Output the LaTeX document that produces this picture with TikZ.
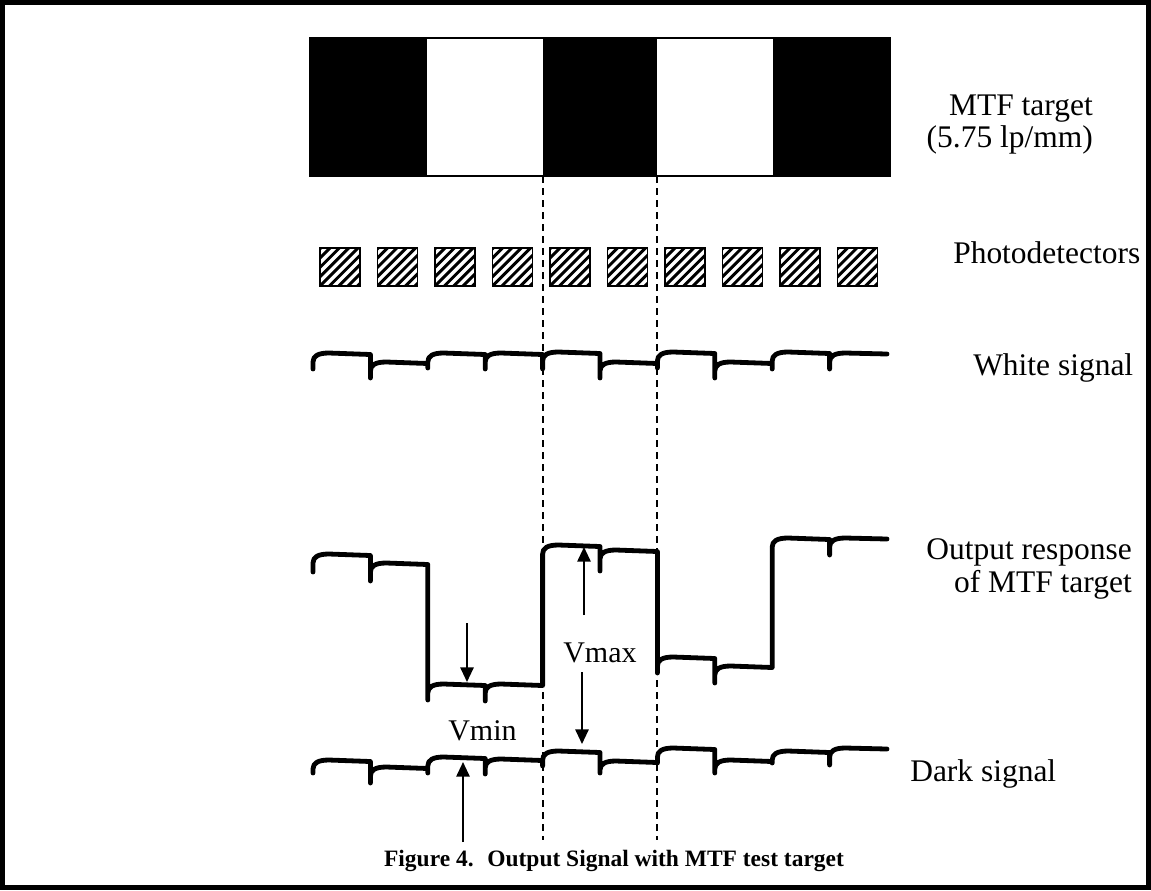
\documentclass[tikz,border=0pt]{standalone}
\usepackage{fontspec}
\setmainfont{Liberation Serif}
\usetikzlibrary{arrows.meta}
\begin{document}
\begin{tikzpicture}[x=0.75pt,y=-0.75pt,
  lbl/.style={inner sep=0pt,font=\fontsize{23.6}{28}\selectfont},
  vlbl/.style={inner sep=0pt,font=\fontsize{22.5}{26}\selectfont},
  capt/.style={inner sep=0pt,font=\fontsize{17.6}{21}\selectfont\bfseries},
  wave/.style={line width=3.6pt,line cap=round,line join=round},
  guide/.style={line width=1.4pt,dash pattern=on 5.5pt off 3.5pt},
  varrow/.style={line width=1.4pt,-{Triangle[length=11pt,width=10pt]}},
  pdbox/.style={draw,line width=1.4pt,minimum width=30pt,minimum height=28.5pt,inner sep=0pt,
    path picture={\foreach \k in {-5,...,5}
      \draw[line width=2.2pt] ([xshift=\k*7pt]path picture bounding box.south west) -- ++(36pt,36pt);}}
]
\useasboundingbox (0,0) rectangle (1151,890);
% frame
\draw[line width=3.75pt] (2.5,2.5) rectangle (1148.5,887.5);
% MTF target bars
\fill (310,38) rectangle (427,176);
\fill (543,38) rectangle (657,176);
\fill (773,38) rectangle (890,176);
\draw[line width=1.2pt] (310,38) rectangle (890,176);
\coordinate (bar1) at (543,176);
\coordinate (bar2) at (657,176);
\coordinate (end1) at (543,840);
\coordinate (end2) at (657,840);
\draw[guide] (bar1) -- (end1);
\draw[guide] (bar2) -- (end2);
% photodetectors
\foreach \k in {0,...,9}
  \node[pdbox] (pd\k) at ({340+57.5*\k},267) {};
% white signal
\draw[wave] (313,369) -- (313,362) .. controls (313,356) and (318,353) .. (329,353)
  \foreach \x/\p/\s/\l in {370.4/353/378/362, 427.8/362/368/353, 485.2/353/369/353,
     542.6/353/369/352, 600/352/378/362, 657.4/362/368/352, 714.8/352/378/362,
     772.2/362/369/352, 829.6/352/369/353}
  { -- (\x,\p+1.5) -- (\x,\s) -- (\x,\l+9) .. controls (\x,\l+3) and (\x+5,\l) .. (\x+16,\l) } -- (887,354);
% output response
\draw[wave] (313,572) -- (313,563) .. controls (313,557) and (318,554) .. (329,554)
  \foreach \x/\p/\s/\l in {370.4/554/581/563, 427.8/563/700/684, 485.2/684/701/684,
     542.6/684/560/545, 600/545/571/550, 657.4/550/673/657, 714.8/657/683/666,
     772.2/666/554/538, 829.6/538/555/538}
  { -- (\x,\p+1.5) -- (\x,\s) -- (\x,\l+9) .. controls (\x,\l+3) and (\x+5,\l) .. (\x+16,\l) } -- (887,539);
% dark signal
\draw[wave] (313,773) -- (313,769) .. controls (313,763) and (318,760) .. (329,760)
  \foreach \x/\p/\s/\l in {370.4/760/783/767, 427.8/767/773/757, 485.2/757/774/759,
     542.6/759/766/751, 600/751/773/761, 657.4/761/763/748, 714.8/748/773/760,
     772.2/760/763/751, 829.6/751/765/748}
  { -- (\x,\p+1.5) -- (\x,\s) -- (\x,\l+9) .. controls (\x,\l+3) and (\x+5,\l) .. (\x+16,\l) } -- (887,749);
% Vmin / Vmax arrows
\coordinate (vmina) at (467,623);
\coordinate (vminb) at (467,682);
\coordinate (vminc) at (463,842);
\coordinate (vmind) at (463,762);
\coordinate (vmaxa) at (584,615);
\coordinate (vmaxb) at (584,547);
\coordinate (vmaxc) at (582,672);
\coordinate (vmaxd) at (582,744);
\draw[varrow] (vmina) -- (vminb);
\draw[varrow] (vminc) -- (vmind);
\draw[varrow] (vmaxa) -- (vmaxb);
\draw[varrow] (vmaxc) -- (vmaxd);
\node[vlbl,anchor=base west] (vmin) at (448,740) {Vmin};
\node[vlbl,anchor=base west] (vmax) at (563,662) {Vmax};
% labels
\node[lbl,anchor=base east] (mtfa) at (1093,115) {MTF target};
\node[lbl,anchor=base east] (mtfb) at (1093,147) {(5.75 lp/mm)};
\node[lbl,anchor=base west] (pdl) at (953,263) {Photodetectors};
\node[lbl,anchor=base west] (wsl) at (973,375) {White signal};
\node[lbl,anchor=base east] (ora) at (1132,559) {Output response};
\node[lbl,anchor=base east] (orb) at (1132,592) {of MTF target};
\node[lbl,anchor=base west] (dsl) at (910,781) {Dark signal};
\node[capt,anchor=base] (cap) at (614,866) {Figure 4.~ Output Signal with MTF test target};
\end{tikzpicture}
\end{document}
